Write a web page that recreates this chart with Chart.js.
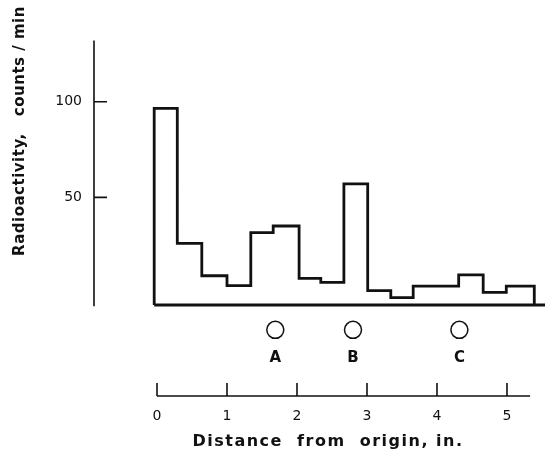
<!DOCTYPE html>
<html>
<head>
<meta charset="utf-8">
<script src="https://cdn.jsdelivr.net/npm/chart.js@4.4.1/dist/chart.umd.min.js"></script>
<style>
  html, body { margin: 0; padding: 0; background: #fff; }
  #wrap { width: 549px; height: 454px; }
</style>
</head>
<body>
<div id="wrap"><canvas id="chart" width="549" height="454"></canvas></div>
<script>
// bin edges along the strip (inches) and counts per bin
const binEdges = [-0.04, 0.29, 0.64, 1.0, 1.34, 1.66, 2.03, 2.34, 2.67, 3.01, 3.34, 3.66, 4.0, 4.31, 4.66, 4.99, 5.39];
const counts = [96.5, 25.9, 9.0, 3.8, 31.5, 35.0, 7.6, 5.5, 57.0, 1.2, -2.5, 3.6, 3.6, 9.4, 0.3, 3.6];
const baseLevel = -6.3;   // where the histogram outline closes
const baseEnd = 5.55;

// spots on the developed strip
const spotLabels = ['A', 'B', 'C'];
const spotPositions = [1.69, 2.80, 4.32];

const yTickValues = [50, 100];
const xTickValues = [0, 1, 2, 3, 4, 5];
const xAxisEnd = 5.33;
const yAxisRange = [-7, 132];

const FONT = "'DejaVu Sans', sans-serif";
const INK = '#111';

// outline: up the left edge, across the steps, down and back along the base
const outline = [{ x: binEdges[0], y: baseLevel }];
counts.forEach((c, i) => outline.push({ x: binEdges[i], y: c }));
outline.push({ x: binEdges[binEdges.length - 1], y: counts[counts.length - 1] });
outline.push({ x: binEdges[binEdges.length - 1], y: baseLevel });
outline.push({ x: baseEnd, y: baseLevel });
outline.push({ x: binEdges[0], y: baseLevel });

const spots = spotPositions.map(x => ({ x: x, y: 0.167 }));

const axesPlugin = {
  id: 'paperAxes',
  afterDraw(chart) {
    const ctx = chart.ctx;
    const xs = chart.scales.x, ys = chart.scales.y, ym = chart.scales.yMark;
    const area = chart.chartArea;
    ctx.save();
    ctx.strokeStyle = INK;
    ctx.fillStyle = INK;
    ctx.lineWidth = 1.6;

    // vertical axis with inward ticks
    const ax = area.left;
    ctx.beginPath();
    ctx.moveTo(ax, ys.getPixelForValue(yAxisRange[1]));
    ctx.lineTo(ax, ys.getPixelForValue(yAxisRange[0]));
    yTickValues.forEach(v => {
      const p = ys.getPixelForValue(v);
      ctx.moveTo(ax, p);
      ctx.lineTo(ax + 13, p);
    });
    ctx.stroke();

    // separate distance scale at the bottom, ticks pointing up
    const by = area.bottom;
    ctx.beginPath();
    ctx.moveTo(xs.getPixelForValue(0), by);
    ctx.lineTo(xs.getPixelForValue(xAxisEnd), by);
    xTickValues.forEach(v => {
      const p = xs.getPixelForValue(v);
      ctx.moveTo(p, by);
      ctx.lineTo(p, by - 13);
    });
    ctx.stroke();

    // spot letters
    ctx.font = 'bold 15px ' + FONT;
    ctx.textAlign = 'center';
    ctx.textBaseline = 'middle';
    spotLabels.forEach((s, i) => {
      ctx.fillText(s, xs.getPixelForValue(spotPositions[i]), ym.getPixelForValue(0.096));
    });

    // x title
    ctx.letterSpacing = '1.5px';
    ctx.font = 'bold 16px ' + FONT;
    ctx.fillText('Distance  from  origin, in.', 328, 442);

    // y title
    ctx.translate(20, 131);
    ctx.rotate(-Math.PI / 2);
    ctx.letterSpacing = '0.5px';
    ctx.font = 'bold 15px ' + FONT;
    ctx.fillText('Radioactivity,   counts / min', 0, 0);
    ctx.restore();
  }
};

new Chart(document.getElementById('chart'), {
  type: 'line',
  data: {
    datasets: [
      {
        data: outline,
        borderColor: INK,
        borderWidth: 2.8,
        stepped: 'before',
        fill: false,
        pointRadius: 0,
        yAxisID: 'y'
      },
      {
        data: spots,
        showLine: false,
        pointStyle: 'circle',
        pointRadius: 8.5,
        pointBorderWidth: 1.5,
        pointBorderColor: INK,
        pointBackgroundColor: '#fff',
        yAxisID: 'yMark'
      }
    ]
  },
  options: {
    responsive: false,
    animation: false,
    events: [],
    layout: { autoPadding: false, padding: { left: 0, right: 4, top: 0, bottom: 0 } },
    plugins: { legend: { display: false }, tooltip: { enabled: false } },
    scales: {
      x: {
        type: 'linear',
        min: -0.9,
        max: 5.543,
        grid: { display: false, drawTicks: false },
        border: { display: false },
        afterBuildTicks: s => { s.ticks = xTickValues.map(v => ({ value: v })); },
        afterFit: s => { s.height = 58; s.paddingLeft = 0; s.paddingRight = 0; },
        ticks: {
          color: INK,
          padding: 12,
          maxRotation: 0,
          autoSkip: false,
          font: { family: FONT, size: 14 }
        }
      },
      y: {
        min: -53.9,
        max: 153.2,
        grid: { display: false, drawTicks: false },
        border: { display: false },
        afterBuildTicks: s => { s.ticks = yTickValues.map(v => ({ value: v })); },
        afterFit: s => { s.width = 94; s.paddingTop = 0; s.paddingBottom = 0; },
        ticks: {
          color: INK,
          padding: 12,
          font: { family: FONT, size: 14 }
        }
      },
      yMark: {
        display: false,
        min: 0,
        max: 1
      }
    }
  },
  plugins: [axesPlugin]
});
</script>
</body>
</html>
